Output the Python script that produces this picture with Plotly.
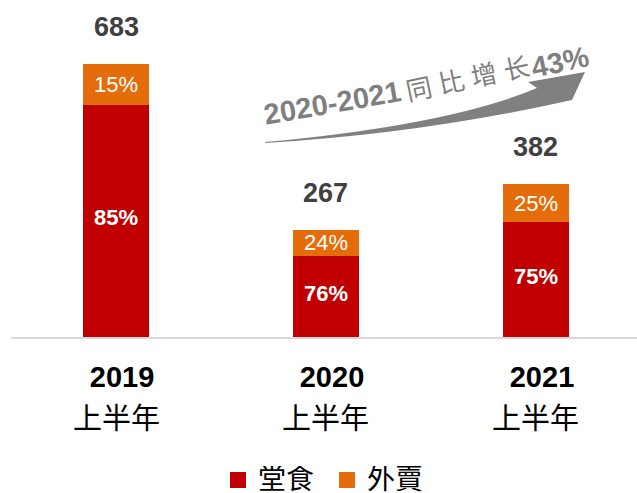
import plotly.graph_objs as go

# data
years = ['2019', '2020', '2021']
totals = [683, 267, 382]
dine_in_pct = [85, 76, 75]
delivery_pct = [15, 24, 25]
period_label = '上半年'
legend_names = ['堂食', '外賣']

RED = '#C00000'
ORANGE = '#E46C0A'
FONT = 'Liberation Sans, Noto Sans CJK TC, sans-serif'

W, H = 637, 493
M = dict(l=11, r=0, t=20, b=156)
PW = W - M['l'] - M['r']
PH = H - M['t'] - M['b']


def to_paper(px, py):
    '''pixel -> paper coords (for decoration only)'''
    return (px - M['l']) / PW, (H - M['b'] - py) / PH


dine_vals = [t * p / 100 for t, p in zip(totals, dine_in_pct)]
deliv_vals = [t * p / 100 for t, p in zip(totals, delivery_pct)]
xs = list(range(len(years)))

fig = go.Figure()
fig.add_trace(go.Bar(x=xs, y=dine_vals, name=legend_names[0], marker_color=RED,
                     width=0.314, marker_line_width=0))
fig.add_trace(go.Bar(x=xs, y=deliv_vals, name=legend_names[1], marker_color=ORANGE,
                     width=0.314, marker_line_width=0))

annotations = []
shapes = []
for i in xs:
    # total on top
    annotations.append(dict(x=i, y=totals[i], text='<b>%d</b>' % totals[i],
                            showarrow=False, yanchor='middle', yshift=37,
                            font=dict(size=27, color='#404040', family=FONT)))
    # segment labels
    annotations.append(dict(x=i, y=dine_vals[i] / 2, text='<b>%d%%</b>' % dine_in_pct[i],
                            showarrow=False, yanchor='middle', yshift=3,
                            font=dict(size=22, color='white', family=FONT)))
    annotations.append(dict(x=i, y=dine_vals[i] + deliv_vals[i] / 2,
                            text='%d%%' % delivery_pct[i],
                            showarrow=False, yanchor='middle',
                            font=dict(size=22, color='white', family=FONT)))
    # second line of the category label
    annotations.append(dict(x=i, yref='paper', y=to_paper(0, 419)[1], text=period_label,
                            showarrow=False, yanchor='middle', height=34,
                            font=dict(size=29, color='black', family=FONT)))

# growth arrow text, in three pieces following the curve
for txt, (px, py), ang, sz in [('<b>2020-2021</b>', (332, 103), -10, 29),
                               ('同 比 增 长', (468, 79), -12, 26),
                               ('<b>43%</b>', (560, 62), -12, 29)]:
    tx, ty = to_paper(px, py)
    annotations.append(dict(xref='paper', yref='paper', x=tx, y=ty, text=txt,
                            textangle=ang, showarrow=False,
                            xanchor='center', yanchor='middle',
                            font=dict(size=sz, color='#7F7F7F', family=FONT)))

# curved arrow
pts = [(265, 143), (420, 134), (572, 100), (585, 72), (528, 82),
       (537, 88), (449, 125), (265, 142)]
pp = [to_paper(*q) for q in pts]
path = ('M {0[0]},{0[1]} Q {1[0]},{1[1]} {2[0]},{2[1]} L {3[0]},{3[1]} L {4[0]},{4[1]} '
        'L {5[0]},{5[1]} Q {6[0]},{6[1]} {7[0]},{7[1]} Z').format(*pp)
shapes.append(dict(type='path', path=path, xref='paper', yref='paper',
                   fillcolor='#808080', line=dict(width=0)))

# hand-made legend (plotly's own legend pushes the bottom margin)
for name, col, sx in zip(legend_names, [RED, ORANGE], [230, 339]):
    x0, y0 = to_paper(sx, 488)
    x1, y1 = to_paper(sx + 16, 472)
    shapes.append(dict(type='rect', xref='paper', yref='paper', x0=x0, y0=y0,
                       x1=x1, y1=y1, fillcolor=col, line=dict(width=0)))
    lx, ly = to_paper(sx + 26, 479)
    annotations.append(dict(xref='paper', yref='paper', x=lx, y=ly, text=name,
                            showarrow=False, xanchor='left', yanchor='middle',
                            height=26,
                            font=dict(size=28, color='black', family=FONT)))

fig.update_layout(
    width=W, height=H,
    margin=M,
    barmode='stack',
    plot_bgcolor='white',
    paper_bgcolor='white',
    showlegend=False,
    annotations=annotations,
    shapes=shapes,
    xaxis=dict(range=[-0.5, 2.481], showline=True, linecolor='#D9D9D9', linewidth=2,
               showgrid=False, zeroline=False, ticks='', tickvals=xs,
               ticktext=['<b>%s</b>' % y for y in years],
               tickfont=dict(size=29, color='black', family=FONT),
               ticklabelstandoff=13, ticklabelshift=6, automargin=False),
    yaxis=dict(range=[0, 792], visible=False, showgrid=False, zeroline=False),
)

fig.write_html("out.html", config={'displayModeBar': False},
               post_script="document.body.style.margin='0';")
